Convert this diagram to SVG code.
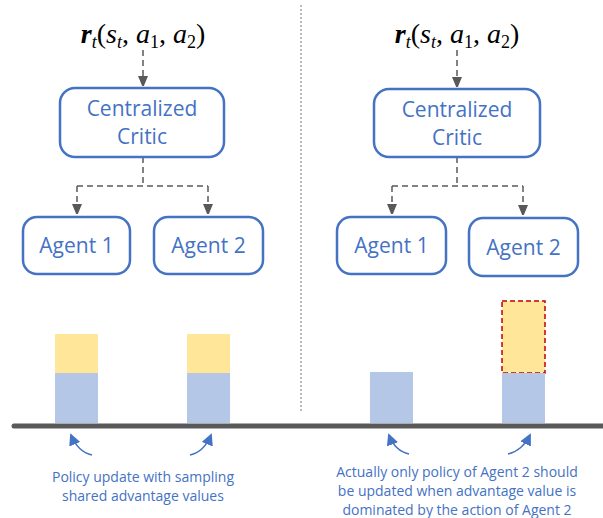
<svg xmlns="http://www.w3.org/2000/svg" width="603" height="518" viewBox="0 0 603 518">
<defs>
<marker id="ah" markerWidth="10" markerHeight="12" refX="11" refY="5" orient="auto" markerUnits="userSpaceOnUse"><path d="M0,0 L12,5 L0,10 z" fill="#595959"/></marker>
<marker id="bh" markerWidth="12" markerHeight="12" refX="10" refY="6" orient="auto" markerUnits="userSpaceOnUse"><path d="M0,0 L12,6 L0,12 z" fill="#4472C4"/></marker>
<style>
.box{fill:#fff;stroke:#4472C4;stroke-width:2.5}
.lbl{font-family:"Open Sans","Noto Sans",sans-serif;font-size:21px;fill:#4472C4;text-anchor:middle}
.math{font-family:"Liberation Serif",serif;font-size:28px;font-style:italic;fill:#000;text-anchor:middle}
.cap{font-family:"Open Sans","Noto Sans",sans-serif;font-size:14px;fill:#4472C4;text-anchor:middle}
.dash{fill:none;stroke:#595959;stroke-width:1.5;stroke-dasharray:6,4}
.curve{fill:none;stroke:#4472C4;stroke-width:1.5}
.blue{fill:#B4C7E7}
.yel{fill:#FFE699}
</style>
</defs>
<line x1="301" y1="5" x2="301" y2="412" stroke="#777" stroke-width="1" stroke-dasharray="2,2"/>
<text class="math" x="143" y="43"><tspan font-weight="bold">r</tspan><tspan font-size="18" dy="5">t</tspan><tspan dy="-5" font-style="normal">(</tspan>s<tspan font-size="18" dy="5">t</tspan><tspan dy="-5" font-style="normal">, </tspan>a<tspan font-size="18" dy="5" font-style="normal">1</tspan><tspan dy="-5" font-style="normal">, </tspan>a<tspan font-size="18" dy="5" font-style="normal">2</tspan><tspan dy="-5" font-style="normal">)</tspan></text>
<text class="math" x="457" y="43"><tspan font-weight="bold">r</tspan><tspan font-size="18" dy="5">t</tspan><tspan dy="-5" font-style="normal">(</tspan>s<tspan font-size="18" dy="5">t</tspan><tspan dy="-5" font-style="normal">, </tspan>a<tspan font-size="18" dy="5" font-style="normal">1</tspan><tspan dy="-5" font-style="normal">, </tspan>a<tspan font-size="18" dy="5" font-style="normal">2</tspan><tspan dy="-5" font-style="normal">)</tspan></text>
<g id="connectors">
<path class="dash" d="M143,50 V87" marker-end="url(#ah)"/>
<path class="dash" d="M143,157 V186 M77,186 H208"/>
<path class="dash" d="M77,186 V215" marker-end="url(#ah)"/>
<path class="dash" d="M208,186 V215" marker-end="url(#ah)"/>
<path class="dash" d="M457,50 V88" marker-end="url(#ah)"/>
<path class="dash" d="M457,157 V186 M392,186 H523"/>
<path class="dash" d="M392,186 V215" marker-end="url(#ah)"/>
<path class="dash" d="M523,186 V216" marker-end="url(#ah)"/>
<path class="curve" d="M92,455 Q78,452 71,435" marker-end="url(#bh)"/>
<path class="curve" d="M190,455 Q204,452 211,435" marker-end="url(#bh)"/>
<path class="curve" d="M409,454 Q395,451 389,435" marker-end="url(#bh)"/>
<path class="curve" d="M508,454 Q522,451 530,435" marker-end="url(#bh)"/>
</g>
<g id="critic-left"><rect class="box" x="60" y="88" width="164" height="69" rx="15"/><text class="lbl" x="142" y="116">Centralized</text><text class="lbl" x="142" y="144">Critic</text></g>
<g id="agent1-left"><rect class="box" x="23" y="217" width="107" height="57" rx="14"/><text class="lbl" x="76.5" y="253">Agent 1</text></g>
<g id="agent2-left"><rect class="box" x="154" y="217" width="109" height="57" rx="14"/><text class="lbl" x="208.5" y="253">Agent 2</text></g>
<g id="critic-right"><rect class="box" x="374" y="89" width="166" height="68" rx="15"/><text class="lbl" x="457" y="117">Centralized</text><text class="lbl" x="457" y="145">Critic</text></g>
<g id="agent1-right"><rect class="box" x="337" y="217" width="109" height="57" rx="14"/><text class="lbl" x="391.5" y="253">Agent 1</text></g>
<g id="agent2-right"><rect class="box" x="469" y="218" width="109" height="58" rx="14"/><text class="lbl" x="523.5" y="255">Agent 2</text></g>
<g id="bars">
<rect class="yel" x="55" y="334" width="43" height="39"/><rect class="blue" x="55" y="373" width="43" height="50"/>
<rect class="yel" x="187" y="334" width="43" height="39"/><rect class="blue" x="187" y="373" width="43" height="50"/>
<rect class="blue" x="370" y="372" width="43" height="51"/>
<rect class="yel" x="502" y="301" width="43" height="72" stroke="#C00000" stroke-width="1.5" stroke-dasharray="5,3"/><rect class="blue" x="502" y="373" width="43" height="50"/>
</g>
<line x1="14" y1="426" x2="603" y2="426" stroke="#595959" stroke-width="5" stroke-linecap="round"/>
<text class="cap" x="143" y="482">Policy update with sampling</text>
<text class="cap" x="143" y="501">shared advantage values</text>
<text class="cap" x="457" y="477">Actually only policy of Agent 2 should</text>
<text class="cap" x="457" y="496">be updated when advantage value is</text>
<text class="cap" x="457" y="515">dominated by the action of Agent 2</text>
</svg>
